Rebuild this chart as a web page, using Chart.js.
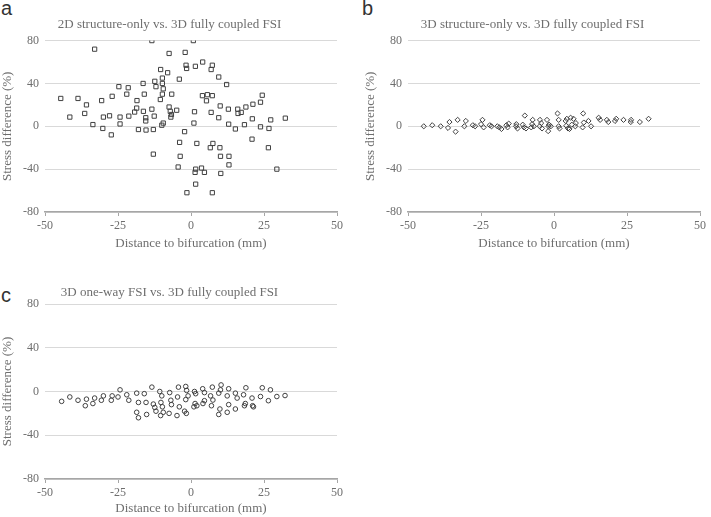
<!DOCTYPE html>
<html>
<head>
<meta charset="utf-8">
<script src="https://cdn.jsdelivr.net/npm/chart.js@4.4.1/dist/chart.umd.min.js"></script>
<style>
  body { margin: 0; background: #fff; width: 711px; height: 517px; position: relative; overflow: hidden; }
  canvas { position: absolute; }
  .lbl { position: absolute; font-family: 'Liberation Sans', Arial, sans-serif; font-size: 20px; color: #333; line-height: 1; }
</style>
</head>
<body>
<div class="lbl" style="left:1px; top:-2px;">a</div>
<div class="lbl" style="left:362px; top:-2px;">b</div>
<div class="lbl" style="left:1px; top:285px;">c</div>
<canvas id="panelA" width="346" height="258" style="left:0; top:0;"></canvas>
<canvas id="panelB" width="346" height="258" style="left:363px; top:0;"></canvas>
<canvas id="panelC" width="346" height="254" style="left:0; top:263px;"></canvas>
<script>
const xTicks = [-50, -25, 0, 25, 50];
const yTicks = [-80, -40, 0, 40, 80];

// a: 2D structure-only vs. 3D fully coupled FSI
const struct2dX = [-13.4, 0.8, -33, -7.5, -2, -1.7, -1.5, 1.5, 4, 7.3, 6.9, -10.4, -8, -9.8, -4, 9.5, 12.2, -12.4, -16.4, -9.8,
  -12, -9.5, -24.7, -21.5, -44.6, -38.7, -35.8, -30.6, -27, -22, -18.5, -18.6, -16, -10.5, -9.8, -6.6, 3.9, 5.6, 7.3, 5.3,
  24.4, 23.8, 21.2, 18.8, 16, 17.2, 16.1, 12.8, 10, 9.5, 6.9, 1.2, -16.3, -15.5, -15.5, -13.4, -12.6, -7.5, -7.1, -6.7,
  -4.9, -6.9, -9.5, -10, -24.3, -21.3, -19.3, -30, -27.9, -36.4, -41.5, -33.6, -30.2, -27.3, -24.3, -18, -15.4, -12.9, -2.2, 1,
  12.9, 15.2, 18.3, 21, 23.8, 26.7, 27.3, 32.3, 20.9, -3.9, 2, 7.5, 6.6, 9.9, 26.5, -12.9, -3.7, 10.1, 13, 13,
  -4.4, 1.6, 3.6, 1.4, 4.6, 10.2, 29.4, 1.6, -1.4, 7.3];
const struct2dY = [80, 80, 72, 68, 69, 57, 54, 56, 60, 57, 53, 53, 50, 45, 44, 46, 39, 42, 40, 40,
  37, 35, 37, 36, 26, 26, 20, 24, 28, 30, 24, 17, 30, 25, 30, 30, 28.6, 29.5, 28.6, 23.8,
  29, 22.5, 20.6, 18, 16, 13, 12, 16, 19, 8, 13, 13.6, 14, 8, 5, 16, 9.5, 18, 14, 11,
  15, 8.6, 3, 1, 8.6, 9.5, 13.3, 8.6, 9.8, 12, 8.6, 1.6, -2, -8, 2.2, -3, -3.5, -3, -5, 3,
  2, -2.5, 1.5, 7, -0.5, -2, 6, 7.6, -12, -15, -16, -16, -20, -20, -20, -26, -28, -28, -28, -36,
  -38, -40, -39, -43, -43, -44, -40, -54, -62, -62];

// b: 3D structure-only vs. 3D fully coupled FSI
const struct3dX = [-44.6, -41.7, -38.8, -36.3, -35.8, -33.7, -33, -30.7, -30.2, -27.8, -27, -24.5, -24.1, -25, -22, -21.4, -19.4, -18.7,
  -18, -16.3, -15.9, -15.5, -13, -12.5, -12.9, -10.7, -10, -9.6, -10.3, -7.5, -7.3, -6.9, -7.8, -4.8, -4.4, -4.1, -4.9,
  -2.4, -1.9, -2, -1.7, -1.1, 1.2, 1.6, 1.6, 1.9, 4, 4.4, 4.8, 4.2, 5.3, 5.7, 6.1, 6.7, 7.3, 7.5, 10, 9.8, 10.2,
  11.8, 12.7, 15.3, 15.8, 18.1, 18.6, 20.9, 21.3, 23.8, 26.4, 26.3, 29.4, 32.4];
const struct3dY = [0, 1, 0, -1.5, 4, -5, 6, 0, 5, 1, 0, 6, -1, 2, 1, 0, 0, -1,
  -2.5, 1, -1, 2.5, 0, -2, 2, 1.5, 10, -2, -1, 2, 6, 0, -1, 6, 3, -2, 0,
  6, 0, -4.5, 1.5, 0, 12, 6, 0, -2, 5, 7, -2, 0.5, -2.5, 8, 1.5, 7, 0, 3, 12, -1, 3.5,
  5, 0, 8, 6, 6, 4, 5, 7, 6, 6, 4, 4, 7];

// c: 3D one-way FSI vs. 3D fully coupled FSI
const oneWayX = [-44.3, -41.5, -38.7, -36.2, -35.8, -33.6, -33, -30.7, -30, -27.3, -27, -25, -24.3, -22, -21.3, -18.6, -18, -18.6, -18,
  -16, -15.4, -15.2, -13.4, -12.9, -12.4, -12, -10.7, -10, -10.3, -9.8, -9.5, -10.4, -7.3, -6.9, -6.7, -7.5, -4.6, -4.3, -4, -4.8,
  -1.8, -1.5, -1.8, -2.2, -1.6, -1, 1.2, 1.6, 1.4, 1, 2, 4, 4.6, 4.6, 4.1, 6.7, 7.3, 7.5, 7, 9.5, 10.1, 9.5, 9.9, 10.3,
  12.4, 12.9, 12.9, 12.4, 15.2, 15.8, 15.2, 18, 18.8, 18.6, 18.3, 20.9, 21.1, 21.4, 23.8, 24.4, 26.5, 27.2, 29.4, 32.2];
const oneWayY = [-9, -5, -8, -13, -7, -11, -6, -8, -4, -8, -4, -5, 1.5, -3, -8, -1.5, -10, -19, -24,
  -2, -10, -21, 4, -11.5, -14.6, -18, 0, -4, -10, -14, -19, -22, -1, -8, -12, -20, -5, 4, -14, -22,
  4.6, 1, -7.4, -18, -20, -4, 0, -2, -11, -14, -13, 2.5, -1, -8.4, -11, -4, 4, -7.8, -13, -1.5, 1.5, -21, -16, 6,
  -4, 2.5, -12, -19, -1.5, -6, -16, -3, 3.4, -11, -13, -6, -13, -14, -4.6, 3.4, -8.4, 1.5, -4.6, -3.7];

const serif = "'Liberation Serif', 'Times New Roman', serif";
const textGrey = '#6e6e6e';

function makePanel(id, title, xs, ys, marker, radius, geo) {
  const pts = xs.map((x, i) => ({ x: x, y: ys[i] }));
  new Chart(document.getElementById(id), {
    type: 'scatter',
    data: {
      datasets: [{
        data: pts,
        pointStyle: marker,
        pointRadius: radius,
        pointBorderWidth: 1,
        pointBorderColor: '#404040',
        pointBackgroundColor: 'rgba(255,255,255,0)'
      }]
    },
    options: {
      responsive: false,
      animation: false,
      layout: { padding: { left: 0, right: 7, top: 0, bottom: 0 } },
      plugins: {
        legend: { display: false },
        tooltip: { enabled: false },
        title: {
          display: true,
          text: title,
          color: textGrey,
          font: { family: serif, size: 13, weight: 'normal' },
          padding: { top: geo.titleTop, bottom: geo.titleBottom }
        }
      },
      scales: {
        x: {
          type: 'linear',
          min: -50, max: 50,
          afterBuildTicks: s => { s.ticks = xTicks.map(v => ({ value: v })); },
          afterFit: s => { s.height = geo.xHeight; },
          grid: { drawOnChartArea: false, drawTicks: true, tickLength: 4, color: '#a6a6a6' },
          border: { color: '#a6a6a6', width: 1.5 },
          ticks: { color: textGrey, font: { family: serif, size: 12 }, padding: 3, maxRotation: 0, autoSkip: false },
          title: {
            display: true,
            text: 'Distance to bifurcation (mm)',
            color: textGrey,
            font: { family: serif, size: 13 },
            padding: { top: 0, bottom: geo.xTitleBottom }
          }
        },
        y: {
          min: -80, max: 80,
          afterBuildTicks: s => { s.ticks = yTicks.map(v => ({ value: v })); },
          afterFit: s => { s.width = 45; },
          grid: { color: '#d9d9d9', drawTicks: false },
          border: { display: false },
          ticks: { color: textGrey, font: { family: serif, size: 12 }, padding: 6 },
          title: {
            display: true,
            text: 'Stress difference (%)',
            color: textGrey,
            font: { family: serif, size: 13 },
            padding: 0
          }
        }
      }
    }
  });
}

makePanel('panelA', '2D structure-only vs. 3D fully coupled FSI', struct2dX, struct2dY, 'rect', 3,
  { titleTop: 17, titleBottom: 8, xHeight: 46, xTitleBottom: 7 });
makePanel('panelB', '3D structure-only vs. 3D fully coupled FSI', struct3dX, struct3dY, 'rectRot', 2.6,
  { titleTop: 17, titleBottom: 8, xHeight: 46, xTitleBottom: 7 });
makePanel('panelC', '3D one-way FSI vs. 3D fully coupled FSI', oneWayX, oneWayY, 'circle', 2.3,
  { titleTop: 22, titleBottom: 3.4, xHeight: 38, xTitleBottom: 1 });
</script>
</body>
</html>
